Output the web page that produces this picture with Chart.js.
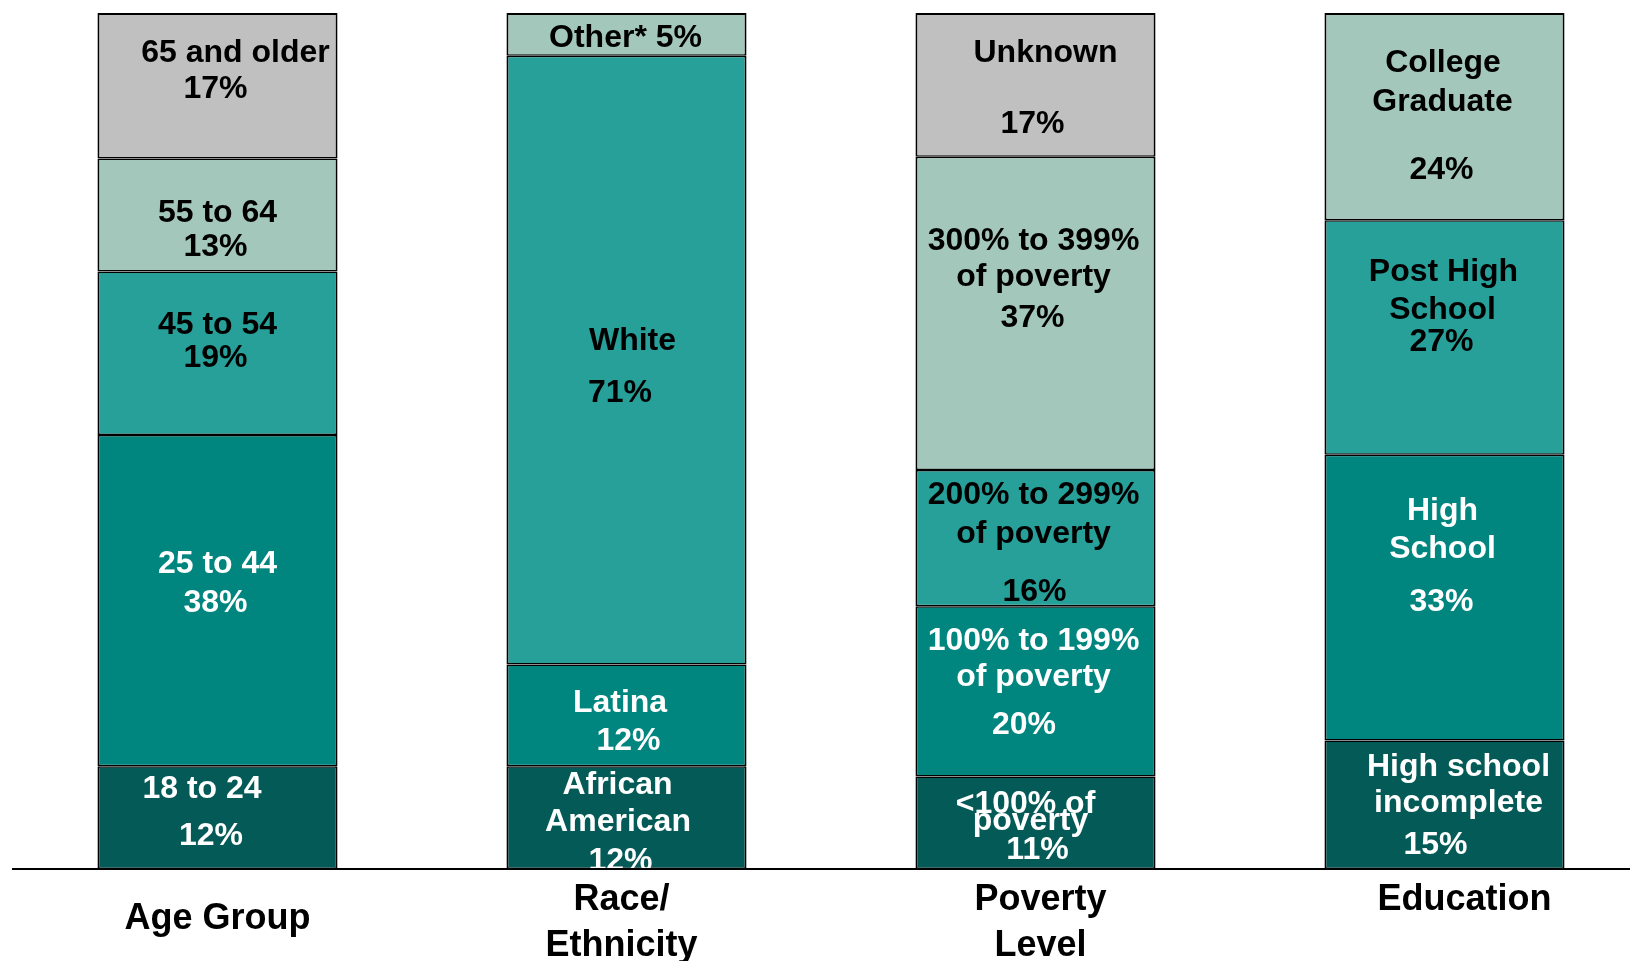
<!DOCTYPE html>
<html>
<head>
<meta charset="utf-8">
<title>Profile</title>
<script src="https://cdn.jsdelivr.net/npm/chart.js@4.4.1/dist/chart.umd.min.js"></script>
<style>
  html, body { margin: 0; padding: 0; background: #fff; overflow: hidden; }
  #wrap { width: 1650px; height: 961px; position: relative; }
</style>
</head>
<body>
<div id="wrap"><canvas id="grafico"></canvas></div>
<script>
// categorias del eje x (los espacios corren un poco el texto, como en el original)
const categories = [['Age Group'], ['Race/ ', 'Ethnicity '], [' Poverty', ' Level'], ['    Education', '']];

// valores de cada tramo, de abajo (nivel 0) hacia arriba
const level0 = [12.0, 12.0, 10.8, 15.0];
const level1 = [38.7, 11.9, 19.9, 33.4];
const level2 = [19.1, 71.1, 15.9, 27.4];
const level3 = [13.2, 5.0, 36.6, 24.2];
const level4 = [17.0, null, 16.8, null];
const levels = [level0, level1, level2, level3, level4];

const levelColors = ['#035a56', '#00857f', '#27a09a', '#a4c7bb', '#c0c0c0'];
const levelTextColors = ['#ffffff', '#ffffff', '#000000', '#000000', '#000000'];

// textos dentro de cada tramo: [nivel][categoria] -> lineas
const segText = [
  [['18 to 24', '12%'], ['African', 'American', '12%'], ['<100% of', 'poverty', '11%'], ['High school', 'incomplete', '15%']],
  [['25 to 44', '38%'], ['Latina', '12%'], ['100% to 199%', 'of poverty', '20%'], ['High', 'School', '33%']],
  [['45 to 54', '19%'], ['White', '71%'], ['200% to 299%', 'of poverty', '16%'], ['Post High', 'School', '27%']],
  [['55 to 64', '13%'], ['Other* 5%'], ['300% to 399%', 'of poverty', '37%'], ['College', 'Graduate', '24%']],
  [['65 and older', '17%'], [], ['Unknown', '17%'], []]
];
// desplazamiento de cada linea: [dx desde el centro de la barra, dy desde el borde superior del tramo]
const segTextPos = [
  [[[-15.5, 20], [-6.5, 67]], [[-9, 16], [-8.5, 53], [-6, 92]], [[-10, 25], [-5, 42], [2, 71]], [[14, 24], [14, 60], [-9, 102]]],
  [[[0, 126], [-2, 165]], [[-6.5, 36], [2, 74]], [[-2, 32], [-2, 68], [-11.5, 116]], [[-2, 54], [-2, 92], [-3, 144.5]]],
  [[[0, 51], [-2, 84]], [[6, 283], [-6.5, 335]], [[-2, 22.5], [-2, 61], [-1, 119]], [[-1, 49.5], [-2, 87], [-3, 119]]],
  [[[0, 52], [-2, 86]], [[-1, 22]], [[-2, 82], [-2, 118], [-3, 159]], [[-1.5, 47.5], [-2, 86], [-3, 154]]],
  [[[18, 37.5], [-2, 73.5]], [], [[10, 37.5], [-3, 108.5]], []]
];

function esTramoSuperior(d, i) {
  for (let k = d + 1; k < levels.length; k++) {
    if (levels[k][i] != null) return false;
  }
  return true;
}

// dibuja los textos de cada tramo a partir de la posicion que calcula Chart.js
const textosTramos = {
  id: 'textosTramos',
  afterDatasetsDraw(chart) {
    const ctx = chart.ctx;
    const area = chart.chartArea;
    ctx.save();
    ctx.beginPath();
    ctx.rect(area.left, area.top, area.right - area.left, area.bottom - area.top - 1);
    ctx.clip();
    ctx.font = 'bold 32px "Liberation Sans", Arial, sans-serif';
    ctx.textAlign = 'center';
    ctx.textBaseline = 'alphabetic';
    levels.forEach((lv, d) => {
      const meta = chart.getDatasetMeta(d);
      ctx.fillStyle = levelTextColors[d];
      lv.forEach((v, i) => {
        if (v == null) return;
        const el = meta.data[i];
        segText[d][i].forEach((linea, j) => {
          const p = segTextPos[d][i][j];
          ctx.fillText(linea, el.x + p[0], el.y + p[1] + 11.5);
        });
      });
    });
    ctx.restore();
  }
};

const fuenteEje = '"Liberation Sans", Arial, sans-serif';

new Chart(document.getElementById('grafico'), {
  type: 'bar',
  data: {
    labels: categories,
    datasets: levels.map((lv, d) => ({
      data: lv,
      backgroundColor: levelColors[d],
      borderColor: '#000000',
      borderSkipped: false,
      inflateAmount: 0,
      borderWidth: c => ({ top: esTramoSuperior(d, c.dataIndex) ? 2 : 1.5, bottom: 1.5, left: 2, right: 2 }),
      barPercentage: 0.587,
      categoryPercentage: 1
    }))
  },
  options: {
    responsive: true,
    maintainAspectRatio: false,
    animation: false,
    layout: { padding: { left: 13, right: 1, top: 13, bottom: 0 } },
    plugins: { legend: { display: false }, tooltip: { enabled: false } },
    scales: {
      x: {
        stacked: true,
        grid: { display: false, drawTicks: false },
        border: { display: true, color: '#000000', width: 2 },
        afterFit: s => { s.height = 92; },
        ticks: {
          color: '#000000',
          padding: 31,
          crossAlign: 'center',
          maxRotation: 0,
          autoSkip: false,
          // la etiqueta de una sola linea queda algo mas arriba que el centro
          font: c => ({ family: fuenteEje, size: 36, weight: 'bold', lineHeight: c.index === 0 ? 1.5 : 1.28 })
        }
      },
      y: {
        stacked: true,
        display: false,
        min: 0,
        max: 100
      }
    }
  },
  plugins: [textosTramos]
});
</script>
</body>
</html>
